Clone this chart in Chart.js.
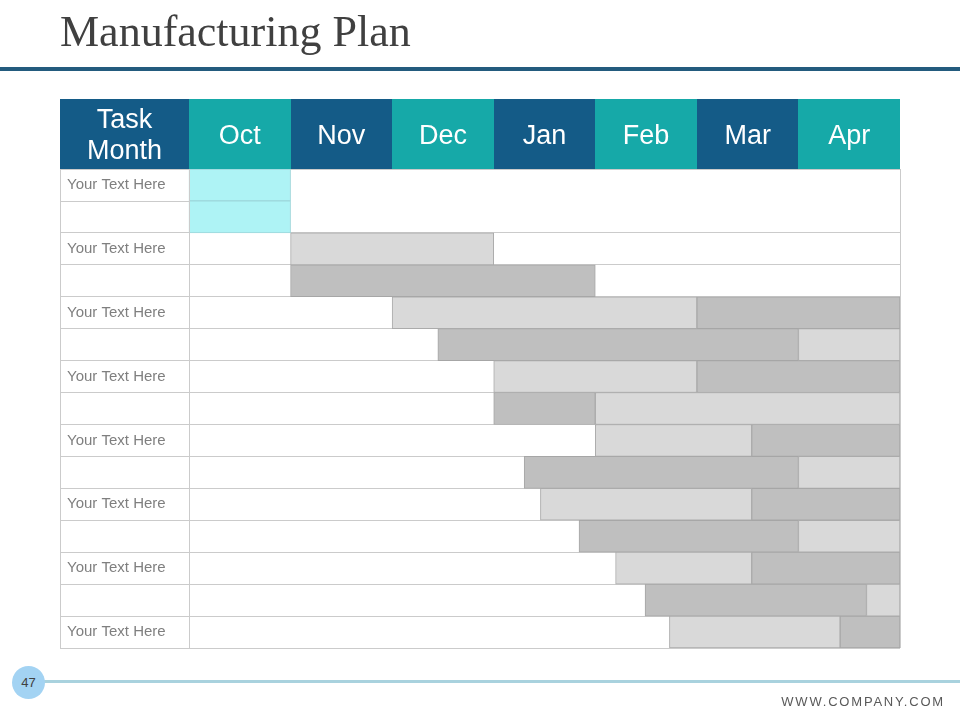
<!DOCTYPE html>
<html>
<head>
<meta charset="utf-8">
<script src="https://cdn.jsdelivr.net/npm/chart.js@4.4.0/dist/chart.umd.min.js"></script>
<style>
  body { margin: 0; background: #fff; }
  #wrap { position: relative; width: 960px; height: 720px; overflow: hidden; }
  #title { position: absolute; left: 60px; top: 10px; font: 44px/44px "Liberation Serif", serif; color: #404040; white-space: nowrap; }
  #rule { position: absolute; left: 0; top: 67px; width: 960px; height: 4px; background: #235b7e; }
  #footLine { position: absolute; left: 28px; top: 680px; width: 932px; height: 3px; background: #a9d2de; }
  #pageNo { position: absolute; left: 12px; top: 666px; width: 33px; height: 33px; border-radius: 50%; background: #a3d3f3;
            font: 13px/33px "Liberation Sans Narrow", "Liberation Sans", sans-serif; color: #404040; text-align: center; }
  #site { position: absolute; right: 15px; top: 694px; font: 13px "Liberation Sans", sans-serif; letter-spacing: 1.8px; color: #595959; }
  #chartBox { position: absolute; left: 0; top: 0; width: 960px; height: 720px; }
</style>
</head>
<body>
<div id="wrap">
  <div id="chartBox"><canvas id="plan"></canvas></div>
  <div id="title">Manufacturing Plan</div>
  <div id="rule"></div>
  <div id="footLine"></div>
  <div id="pageNo">47</div>
  <div id="site">WWW.COMPANY.COM</div>
</div>
<script>
// header labels
const headLabel = ['Task', 'Month'];
const months = ['Oct', 'Nov', 'Dec', 'Jan', 'Feb', 'Mar', 'Apr'];

// one entry per table row
const rows = ['Your Text Here', '', 'Your Text Here', '', 'Your Text Here', '', 'Your Text Here', '',
              'Your Text Here', '', 'Your Text Here', '', 'Your Text Here', '', 'Your Text Here'];

// [start, end] in months from start of Oct
const cyanBars = [[0, 1], [0, 1], null, null, null, null, null, null, null, null, null, null, null, null, null];
const lightBars = [null, null, [1, 3], null, [2, 5], [6, 7], [3, 5], [4, 7], [4, 5.54], [6, 7],
                   [3.46, 5.54], [6, 7], [4.2, 5.54], [6.67, 7], [4.73, 6.41]];
const darkBars = [null, null, null, [1, 4], [5, 7], [2.45, 6], [5, 7], [3, 4], [5.54, 7], [3.3, 6],
                  [5.54, 7], [3.84, 6], [5.54, 7], [4.49, 6.67], [6.41, 7]];

const labelCol = 1.27; // width of the task column, in month units
const dark = '#145b87';
const teal = '#16a9a8';
const lineCol = '#cbcbcb';

const tablePlugin = {
  id: 'table',
  beforeDraw(chart) {
    const ctx = chart.ctx;
    const x = chart.scales.x;
    const edges = [-labelCol, 0, 1, 2, 3, 4, 5, 6, 7];
    ctx.save();
    for (let i = 0; i < edges.length - 1; i++) {
      const l = Math.round(x.getPixelForValue(edges[i]));
      const r = Math.round(x.getPixelForValue(edges[i + 1]));
      ctx.fillStyle = i % 2 === 0 ? dark : teal;
      ctx.fillRect(l, x.top, r - l, x.bottom - x.top);
    }
    ctx.restore();
  },
  afterDatasetsDraw(chart) {
    const ctx = chart.ctx;
    const x = chart.scales.x, y = chart.scales.y;
    const area = chart.chartArea;
    ctx.save();
    ctx.strokeStyle = lineCol;
    ctx.lineWidth = 1;
    ctx.beginPath();
    [-labelCol, 0, 7].forEach(v => {
      const px = Math.round(x.getPixelForValue(v)) + 0.5;
      ctx.moveTo(px, area.top);
      ctx.lineTo(px, area.bottom);
    });
    // row split inside the merged first task, only in the text column
    const py = Math.round((y.getPixelForValue(0) + y.getPixelForValue(1)) / 2) + 0.5;
    ctx.moveTo(x.getPixelForValue(-labelCol), py);
    ctx.lineTo(x.getPixelForValue(0), py);
    ctx.stroke();
    ctx.restore();
  }
};

const colCenters = [-labelCol / 2].concat(months.map((m, i) => i + 0.5));
const headTicks = [headLabel].concat(months);

new Chart(document.getElementById('plan'), {
  type: 'bar',
  data: {
    labels: rows,
    datasets: [
      { label: 'Cyan', data: cyanBars, backgroundColor: '#aef3f5', borderColor: '#9dd6da', borderWidth: 1, borderSkipped: false, grouped: false },
      { label: 'Light', data: lightBars, backgroundColor: '#d9d9d9', borderColor: '#ababab', borderWidth: 1, borderSkipped: false, grouped: false },
      { label: 'Dark', data: darkBars, backgroundColor: '#bfbfbf', borderColor: '#a6a6a6', borderWidth: 1, borderSkipped: false, grouped: false }
    ]
  },
  options: {
    indexAxis: 'y',
    responsive: true,
    maintainAspectRatio: false,
    animation: false,
    barPercentage: 1,
    categoryPercentage: 1,
    layout: { padding: { left: 60, right: 60, top: 99, bottom: 72 } },
    plugins: {
      legend: { display: false },
      tooltip: { enabled: false }
    },
    scales: {
      x: {
        position: 'top',
        min: -labelCol,
        max: 7,
        afterBuildTicks: s => { s.ticks = colCenters.map(v => ({ value: v })); },
        afterFit: s => { s.height = 70; },
        grid: { display: false, drawTicks: false },
        border: { display: false },
        ticks: {
          autoSkip: false,
          maxRotation: 0,
          crossAlign: 'center',
          padding: 17,
          color: '#ffffff',
          font: { family: '"Liberation Sans", Arial, sans-serif', size: 27, lineHeight: 1.18 },
          callback: (v, i) => headTicks[i]
        }
      },
      y: {
        afterFit: s => { s.width = 0; },
        grid: {
          offset: true,
          drawTicks: false,
          color: ctx => (ctx.index === 1 ? 'rgba(0,0,0,0)' : lineCol)
        },
        border: { display: false },
        ticks: {
          mirror: true,
          padding: 7,
          color: '#7f7f7f',
          font: { family: '"Liberation Sans", Arial, sans-serif', size: 15 }
        }
      }
    }
  },
  plugins: [tablePlugin]
});
</script>
</body>
</html>
